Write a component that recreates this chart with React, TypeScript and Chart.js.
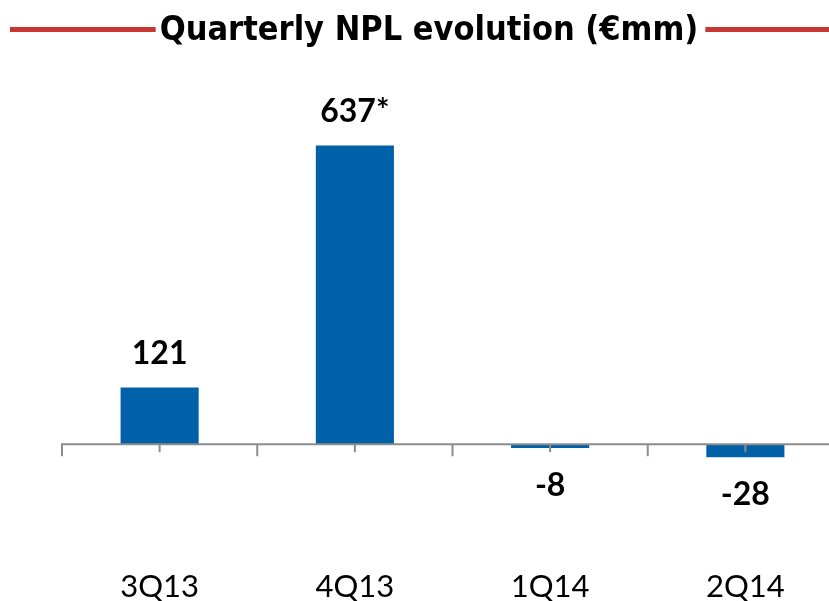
import React, { useEffect, useRef } from "react";
import { Chart, registerables } from "chart.js";

Chart.register(...registerables);

const categories = ["3Q13", "4Q13", "1Q14", "2Q14"];
const npl = [121, 637, -8, -28];
const valueLabels = ["121", "637*", "-8", "-28"];
const titleText = "Quarterly NPL evolution (€mm)";

const BAR_COLOR = "#0061A8";
const AXIS_COLOR = "#8C8C8C";
const RED = "#C8372F";

const decorPlugin = {
  id: "decor",
  afterDatasetsDraw(chart: any) {
    const { ctx, chartArea, scales } = chart;
    const x = scales.x;
    const y = scales.y;
    const y0 = y.getPixelForValue(0);
    ctx.save();
    ctx.strokeStyle = AXIS_COLOR;
    ctx.lineWidth = 2;
    ctx.beginPath();
    ctx.moveTo(chartArea.left - 1, y0);
    ctx.lineTo(chart.width, y0);
    ctx.stroke();
    const n = categories.length;
    for (let i = 0; i <= n; i++) {
      const px = x.getPixelForValue(i - 0.5);
      ctx.beginPath();
      ctx.moveTo(px, y0);
      ctx.lineTo(px, y0 + 12);
      ctx.stroke();
    }
    for (let i = 0; i < n; i++) {
      const px = x.getPixelForValue(i);
      ctx.beginPath();
      ctx.moveTo(px, y0);
      ctx.lineTo(px, y0 + 8);
      ctx.stroke();
    }
    const meta = chart.getDatasetMeta(0);
    ctx.fillStyle = "#000";
    ctx.font = "bold 32px Lato";
    ctx.textAlign = "center";
    ctx.textBaseline = "alphabetic";
    meta.data.forEach((bar: any, i: number) => {
      const v = npl[i];
      if (v >= 0) {
        ctx.fillText(valueLabels[i], bar.x, bar.y - 23);
      } else {
        ctx.fillText(valueLabels[i], bar.x, bar.y + 48);
      }
    });
    ctx.restore();
  },
  afterDraw(chart: any) {
    const { ctx } = chart;
    ctx.save();
    ctx.font = "bold 34px 'DejaVu Sans Condensed'";
    ctx.textAlign = "center";
    ctx.textBaseline = "alphabetic";
    ctx.fillStyle = "#000";
    const cx = 429;
    const w = ctx.measureText(titleText).width;
    ctx.fillText(titleText, cx, 40);
    ctx.fillStyle = RED;
    ctx.fillRect(10, 27, cx - w / 2 - 4 - 10, 5);
    ctx.fillRect(cx + w / 2 + 7, 27, 829 - (cx + w / 2 + 7), 5);
    ctx.restore();
  },
};

export default function App() {
  const ref = useRef<HTMLCanvasElement>(null);
  useEffect(() => {
    document.body.style.margin = "0";
    document.body.style.overflow = "hidden";
    const chart = new Chart(ref.current!, {
      type: "bar",
      data: {
        labels: categories,
        datasets: [
          {
            data: npl,
            backgroundColor: BAR_COLOR,
            borderWidth: 0,
            categoryPercentage: 1,
            barPercentage: 0.4,
          },
        ],
      },
      options: {
        animation: false,
        responsive: true,
        maintainAspectRatio: false,
        layout: { padding: { left: 62, right: 17, top: 69, bottom: 0 } },
        plugins: {
          legend: { display: false },
          tooltip: { enabled: false },
          title: { display: false },
        },
        scales: {
          x: {
            grid: { display: false, drawTicks: false },
            border: { display: false },
            ticks: {
              color: "#000",
              font: { family: "Lato", size: 31 },
              padding: 30,
            },
            afterFit: (scale: any) => {
              scale.height = 63;
            },
          },
          y: {
            display: false,
            min: -200,
            max: 800,
          },
        },
      },
      plugins: [decorPlugin],
    });
    return () => chart.destroy();
  }, []);
  return (
    <div style={{ position: "absolute", left: 0, top: 0, width: 829, height: 601, overflow: "hidden" }}>
      <div style={{ position: "relative", width: 860, height: 601 }}>
        <canvas ref={ref} />
      </div>
    </div>
  );
}
